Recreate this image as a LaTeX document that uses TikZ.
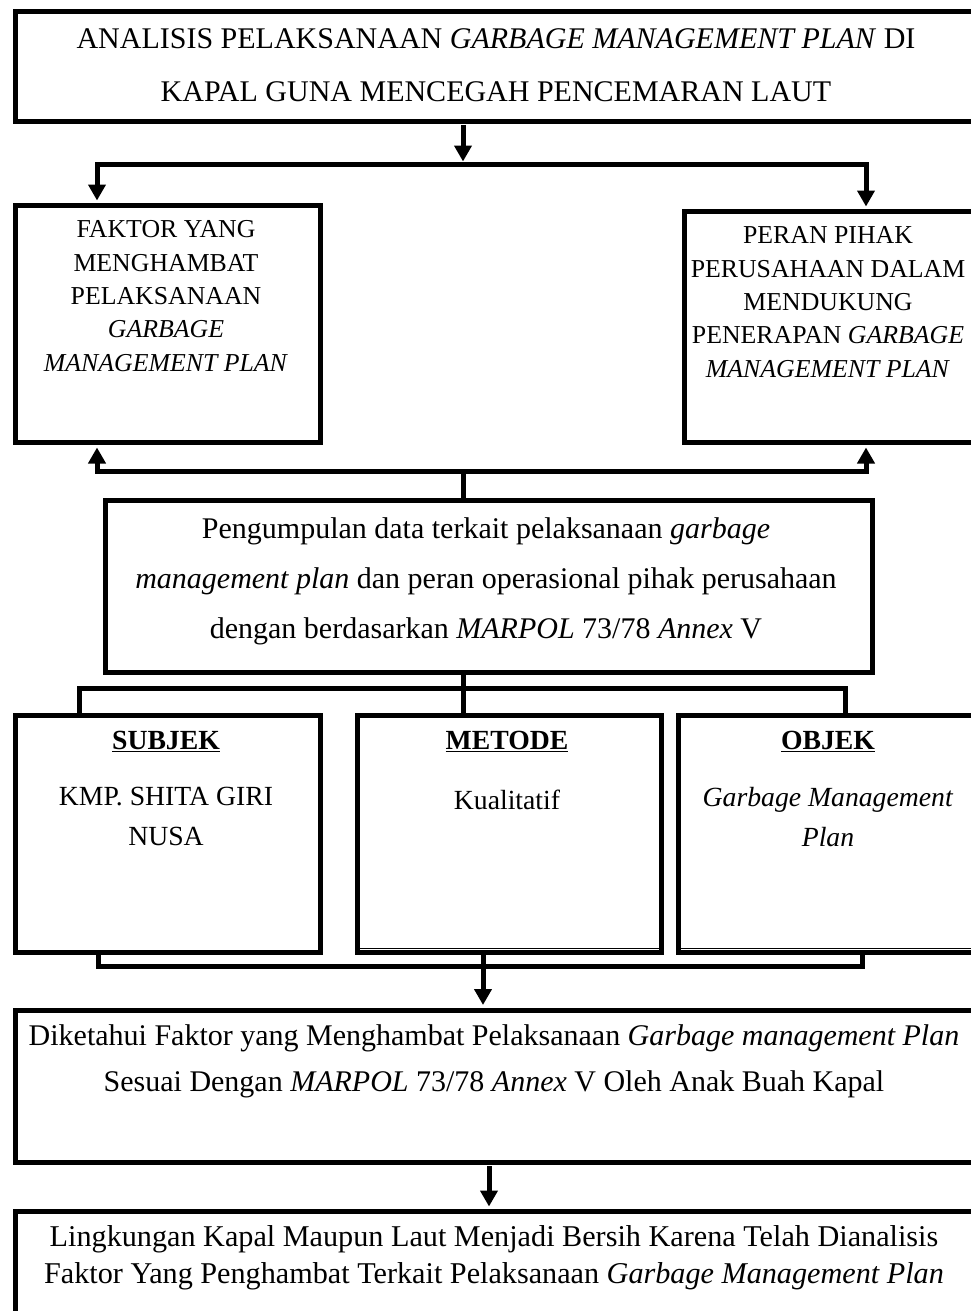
\documentclass[tikz,border=0pt]{standalone}
\usepackage{fontspec}
\setmainfont{Liberation Serif}
\usetikzlibrary{arrows.meta}
\begin{document}
\begin{tikzpicture}[x=1pt,y=-1pt,
  box/.style={draw, line width=5pt, rectangle, inner sep=0pt, anchor=north west},
  conn/.style={line width=5pt},
  arr/.style={line width=5pt, -{Triangle[width=17pt,length=16pt]}},
  txt/.style={align=center, inner sep=0pt},
  fA/.style={font=\fontsize{30}{53}\selectfont},
  fB/.style={font=\fontsize{25.8}{33.3}\selectfont},
  fC/.style={font=\fontsize{30}{50}\selectfont},
  fD/.style={font=\fontsize{27.7}{39.5}\selectfont},
  fE/.style={font=\fontsize{30}{46}\selectfont},
  fF/.style={font=\fontsize{30.2}{36.5}\selectfont}]
\useasboundingbox (0,0) rectangle (971,1311);
\clip (0,0) rectangle (971,1311);
% boxes
\node[box, minimum width=967pt, minimum height=110pt] (title) at (13,9.5) {};
\node[box, minimum width=305pt, minimum height=237pt] (faktor) at (13,203) {};
\node[box, minimum width=298pt, minimum height=231pt] (peran) at (682,209) {};
\node[box, minimum width=767pt, minimum height=172pt] (kumpul) at (103,497.5) {};
\node[box, minimum width=305pt, minimum height=237pt] (subjek) at (13,712.5) {};
\node[box, minimum width=304pt, minimum height=237pt] (metode) at (355,712.5) {};
\node[box, minimum width=304pt, minimum height=237pt] (objek) at (676,712.5) {};
\node[box, minimum width=967pt, minimum height=152pt] (hasil) at (13,1007.5) {};
\node[box, minimum width=967pt, minimum height=130pt] (akhir) at (13,1209) {};
% thin inner lines at the bottom of metode and objek
\draw[line width=1.2pt] ([xshift=2.5pt,yshift=6pt]metode.south west) -- ([xshift=-2.5pt,yshift=6pt]metode.south east);
\draw[line width=1.2pt] ([xshift=2.5pt,yshift=6pt]objek.south west) -- ([xshift=-2.5pt,yshift=6pt]objek.south east);
% texts
\node[txt, fA] (titleT) at (496,65) {ANALISIS PELAKSANAAN \textit{GARBAGE MANAGEMENT PLAN} DI\\KAPAL GUNA MENCEGAH PENCEMARAN LAUT};
\node[txt, fB] (faktorT) at (166,296) {FAKTOR YANG\\MENGHAMBAT\\PELAKSANAAN\\\textit{GARBAGE}\\\textit{MANAGEMENT PLAN}};
\node[txt, fB] (peranT) at (828,302) {PERAN PIHAK\\PERUSAHAAN DALAM\\MENDUKUNG\\PENERAPAN \textit{GARBAGE}\\\textit{MANAGEMENT PLAN}};
\node[txt, fC] (kumpulT) at (486,581) {Pengumpulan data terkait pelaksanaan \textit{garbage}\\\textit{management plan} dan peran operasional pihak perusahaan\\dengan berdasarkan \textit{MARPOL} 73/78 \textit{Annex} V};
\node[txt, fD] (subjekH) at (166,741) {\underline{\textbf{SUBJEK}}};
\node[txt, fD] (metodeH) at (507,741) {\underline{\textbf{METODE}}};
\node[txt, fD] (objekH) at (828,741) {\underline{\textbf{OBJEK}}};
\node[txt, fD] (subjekT) at (166,816.5) {KMP. SHITA GIRI\\NUSA};
\node[txt, fD] (metodeT) at (507,800) {Kualitatif};
\node[txt, fD] (objekT) at (828,817) {\textit{Garbage Management}\\\textit{Plan}};
\node[txt, fE] (hasilT) at (494,1061) {Diketahui Faktor yang Menghambat Pelaksanaan \textit{Garbage management Plan}\\Sesuai Dengan \textit{MARPOL} 73/78 \textit{Annex} V Oleh Anak Buah Kapal};
\node[txt, fF] (akhirT) at (494,1258) {Lingkungan Kapal Maupun Laut Menjadi Bersih Karena Telah Dianalisis\\Faktor Yang Penghambat Terkait Pelaksanaan \textit{Garbage Management Plan}};
% connectors
\coordinate (aS) at (463,125);
\coordinate (aM) at (463,164);
\coordinate (aL) at (97,164);
\coordinate (aR) at (866,164);
\draw[arr] (aS) -- ([yshift=2.5pt]aM);
\draw[arr] (aM) -| ([yshift=2.5pt]faktor.north -| aL);
\draw[arr] (aM) -| ([yshift=2.5pt]peran.north -| aR);
\coordinate (bM) at (463,471);
\coordinate (bL) at (97,471);
\coordinate (bR) at (866,471);
\draw[conn] (kumpul.north -| bM) -- (bM);
\draw[arr] (bM) -| ([yshift=-2.5pt]faktor.south -| bL);
\draw[arr] (bM) -| ([yshift=-2.5pt]peran.south -| bR);
\coordinate (cM) at (463,688);
\coordinate (cL) at (79,688);
\coordinate (cR) at (845,688);
\draw[conn] (subjek.north -| cL) -- (cL) -- (cR) -- (objek.north -| cR);
\draw[conn] (kumpul.south -| cM) -- (metode.north -| cM);
\coordinate (dM) at (483,966);
\coordinate (dL) at (98,966);
\coordinate (dR) at (862,966);
\draw[conn] (subjek.south -| dL) -- (dL) -- (dR) -- (objek.south -| dR);
\draw[conn] (metode.south -| dM) -- (dM);
\draw[arr] (dM) -- ([yshift=2.5pt]hasil.north -| dM);
\coordinate (eS) at (489,1166);
\draw[arr] (eS) -- ([yshift=2.5pt]akhir.north -| eS);
\end{tikzpicture}
\end{document}
